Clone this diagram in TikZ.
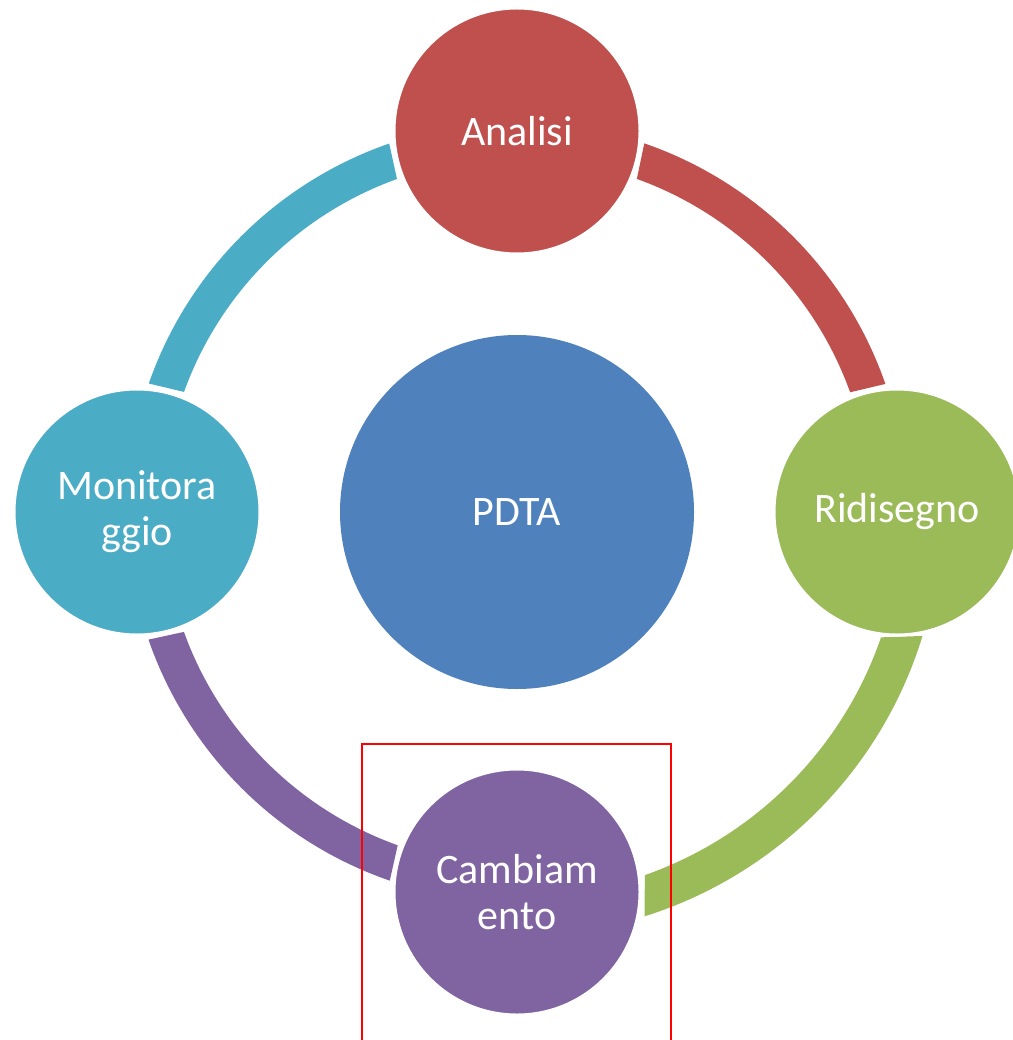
\documentclass[tikz,border=0pt]{standalone}
\usepackage{fontspec}
\setmainfont{Carlito}
\definecolor{cred}{HTML}{C0504D}
\definecolor{cgreen}{HTML}{9BBB59}
\definecolor{cpurple}{HTML}{8064A2}
\definecolor{cteal}{HTML}{4BACC6}
\definecolor{cblue}{HTML}{4F81BD}
\tikzset{
  stage/.style={circle, draw=white, line width=3pt, minimum size=246pt, inner sep=0pt,
    text=white, align=center, font=\fontsize{42}{46}\selectfont},
  hub/.style={circle, fill=cblue, minimum size=354pt, inner sep=0pt,
    text=white, align=center, font=\fontsize{42}{46}\selectfont},
  hilite/.style={draw=red, line width=1.5pt}
}
\begin{document}
\begin{tikzpicture}[x=1pt,y=1pt]
\useasboundingbox (0,0) rectangle (1012,-1040);
\coordinate (ctr) at (517,-512);
% ring segments
\begin{scope}[shift={(ctr)}]
  \fill[cred] (70.95:390pt) arc[start angle=70.95, end angle=19.17, radius=390pt]
    -- (19.77:354pt) arc[start angle=19.77, end angle=70.21, radius=354pt] -- cycle;
  \fill[cgreen] (-17.0:424pt) arc[start angle=-17.0, end angle=-72.5, radius=424pt]
    -- (-70.6:385pt) arc[start angle=-70.6, end angle=-19.0, radius=385pt] -- cycle;
  \fill[cpurple] (250.96:390pt) arc[start angle=250.96, end angle=199.1, radius=390pt]
    -- (199.8:354pt) arc[start angle=199.8, end angle=250.3, radius=354pt] -- cycle;
  \fill[cteal] (160.76:390pt) arc[start angle=160.76, end angle=109.13, radius=390pt]
    -- (109.82:354pt) arc[start angle=109.82, end angle=160.17, radius=354pt] -- cycle;
\end{scope}
% circles
\node[hub] (pdta) at (ctr) {PDTA};
\node[stage, fill=cred] (analisi) at (517,-131) {Analisi};
\node[stage, fill=cgreen] (ridisegno) at (897,-512) {Ridisegno};
\node[stage, fill=cpurple] (cambiamento) at (517,-892) {Cambiam\\ento};
\node[stage, fill=cteal] (monitoraggio) at (137,-512) {Monitora\\ggio};
% highlight frame
\coordinate (hl1) at (362,-1042);
\coordinate (hl2) at (362,-744);
\coordinate (hl3) at (671,-744);
\coordinate (hl4) at (671,-1042);
\draw[hilite] (hl1) -- (hl2) -- (hl3) -- (hl4);
\end{tikzpicture}
\end{document}
